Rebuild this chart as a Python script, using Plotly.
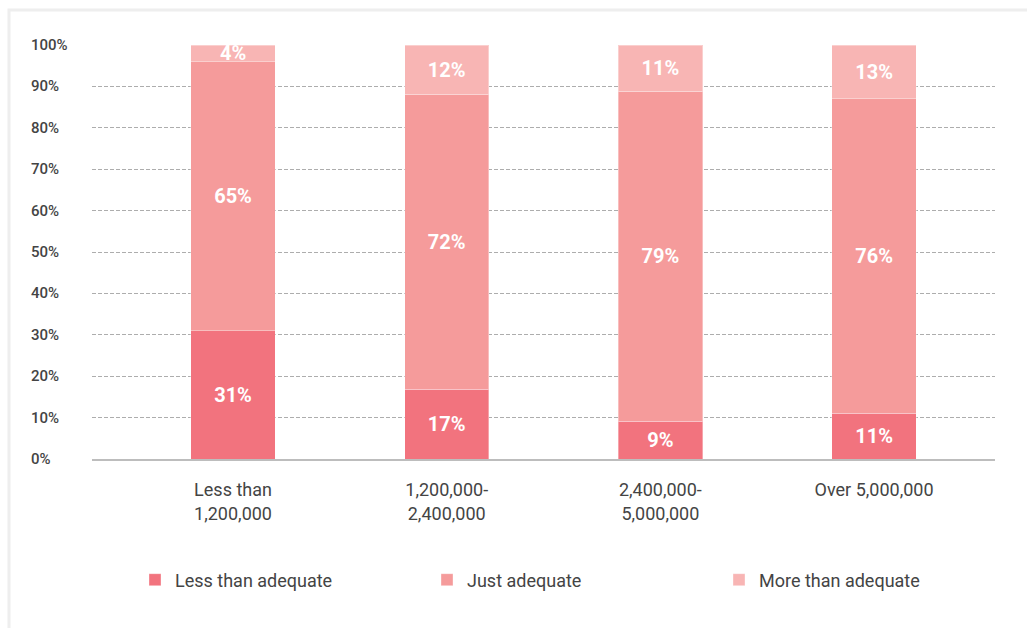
import plotly.graph_objects as go

# Household income bands and share of respondents per adequacy rating (%)
categories = ["Less than<br>1,200,000", "1,200,000-<br>2,400,000",
              "2,400,000-<br>5,000,000", "Over 5,000,000"]
less_than_adequate = [31, 17, 9, 11]
just_adequate = [65, 72, 79, 76]
more_than_adequate = [4, 12, 11, 13]

series_names = ["Less than adequate", "Just adequate", "More than adequate"]
series_values = [less_than_adequate, just_adequate, more_than_adequate]
series_colors = ["#F2737E", "#F59B9B", "#F8B5B4"]

y_ticks = [0, 10, 20, 30, 40, 50, 60, 70, 80, 90, 100]

W, H = 1027, 628
L, R, T, B = 92, 32, 45, 169
plot_w = W - L - R
plot_h = H - T - B

fig = go.Figure()
for name, vals, color in zip(series_names, series_values, series_colors):
    fig.add_trace(go.Bar(
        name=name,
        x=list(range(len(categories))),
        y=vals,
        marker=dict(color=color, line=dict(color="rgba(255,255,255,0.35)", width=1)),
        width=0.395,
        text=[f"{v}%" for v in vals],
        textposition="inside",
        insidetextanchor="middle",
        textangle=0,
        constraintext="none",
        textfont=dict(family="Roboto", size=20, color="white", weight="bold"),
        hoverinfo="skip",
    ))

# y tick labels, left aligned
for t in y_ticks:
    fig.add_annotation(
        x=(29 - L) / plot_w, xref="paper", xanchor="left",
        y=t, yref="y", yanchor="middle",
        text=f"{t}%", showarrow=False,
        font=dict(family="Roboto", size=15, color="#444444", weight=500),
    )

# light frame around the card
fig.add_shape(
    type="rect", xref="paper", yref="paper",
    x0=(9 - L) / plot_w, x1=(W + 20 - L) / plot_w,
    y0=-(H + 20 - T - plot_h) / plot_h, y1=1 + (T - 10) / plot_h,
    line=dict(color="#EEEEEE", width=3), layer="below",
)

fig.update_layout(
    width=W, height=H,
    margin=dict(l=L, r=R, t=T, b=B),
    paper_bgcolor="white", plot_bgcolor="white",
    barmode="stack", barnorm="percent",
    font=dict(family="Roboto", color="#444444"),
    showlegend=True,
    legend=dict(
        orientation="h", xref="container", yref="container",
        x=135 / W, xanchor="left",
        y=1 - 580 / H, yanchor="middle",
        entrywidth=247, traceorder="normal",
        font=dict(family="Roboto", size=18, color="#444444"),
    ),
    xaxis=dict(
        range=[-0.66, 3.566],
        tickmode="array", tickvals=list(range(len(categories))), ticktext=categories,
        tickfont=dict(family="Roboto", size=18, color="#444444"),
        ticks="outside", ticklen=14, tickcolor="rgba(0,0,0,0)",
        showgrid=False, zeroline=False,
        showline=True, linecolor="#BDBDBD", linewidth=1.5,
    ),
    yaxis=dict(
        range=[0, 100],
        tickvals=y_ticks, showticklabels=False,
        showgrid=True, gridcolor="#ADADAD", griddash="4px,2px", gridwidth=1,
        zeroline=False, showline=False,
    ),
)

fig.write_html("out.html")
